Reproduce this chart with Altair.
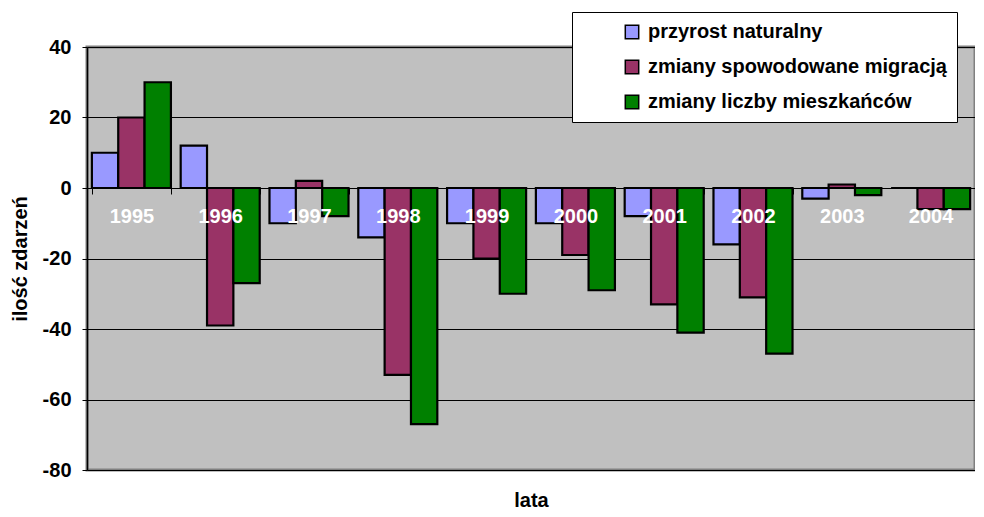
import altair as alt
import pandas as pd

years = ["1995", "1996", "1997", "1998", "1999", "2000", "2001", "2002", "2003", "2004"]
series_names = ["przyrost naturalny", "zmiany spowodowane migracją", "zmiany liczby mieszkańców"]
przyrost = [10, 12, -10, -14, -10, -10, -8, -16, -3, 0]
migracja = [20, -39, 2, -53, -20, -19, -33, -31, 1, -6]
zmiany = [30, -27, -8, -67, -30, -29, -41, -47, -2, -6]
colors = ["#9999FF", "#993366", "#008000"]
y_ticks = [-80, -60, -40, -20, 0, 20, 40]
y_domain = [-80, 40]

rows = []
for name, vals in zip(series_names, [przyrost, migracja, zmiany]):
    for yr, v in zip(years, vals):
        rows.append({"year": yr, "series": name, "value": v})
df = pd.DataFrame(rows)

W, H = 888, 423
FONT = "Liberation Sans"
zero_from_top = H * (y_domain[1] - 0) / (y_domain[1] - y_domain[0])
x_offset = -(H - zero_from_top)

chart = alt.Chart(df).mark_bar(stroke="black", strokeWidth=2.2).encode(
    x=alt.X(
        "year:N", sort=years,
        scale=alt.Scale(paddingInner=0.11, paddingOuter=0.055),
        axis=alt.Axis(
            title="lata", offset=x_offset, labelColor="white", labelFontSize=20,
            labelFontWeight="bold", labelFont=FONT, labelAngle=0, tickBand="extent",
            tickSize=6, tickColor="black", domain=False, labelPadding=12, grid=False,
            labelOverlap=False, labelBound=False, labelFlush=False,
            titleY=302, titleFontSize=20, titleFontWeight="bold", titleFont=FONT,
            titleColor="black", zindex=1,
        ),
    ),
    xOffset=alt.XOffset("series:N", sort=series_names,
                        scale=alt.Scale(paddingInner=0, paddingOuter=0)),
    y=alt.Y(
        "value:Q", scale=alt.Scale(domain=y_domain, nice=False),
        axis=alt.Axis(
            values=y_ticks, title="ilość zdarzeń", labelFontSize=20, labelFontWeight="bold",
            labelFont=FONT, labelColor="black", tickSize=5, tickColor="black",
            labelExpr="'' + datum.value",
            labelPadding=11, domainColor="black", domainWidth=1.5, gridColor="black",
            gridWidth=1, titleFontSize=20, titleFontWeight="bold", titleFont=FONT,
            titleColor="black", titlePadding=12, zindex=0,
        ),
    ),
    color=alt.Color(
        "series:N", sort=series_names,
        scale=alt.Scale(domain=series_names, range=colors),
        legend=alt.Legend(
            title=None, orient="none", legendX=485, legendY=-35, fillColor="white",
            strokeColor="black", padding=10, rowPadding=15, symbolType="square",
            symbolSize=180, symbolStrokeColor="black", symbolStrokeWidth=1.5,
            labelFontSize=20, labelFontWeight="bold", labelFont=FONT, labelColor="black",
            labelLimit=500, labelOffset=6, symbolOffset=40, cornerRadius=0,
        ),
    ),
).properties(
    width=W, height=H,
    padding={"left": 2, "top": 3, "right": 0, "bottom": 0},
).configure_view(
    fill="#C0C0C0", stroke="#808080", strokeWidth=3,
)

chart.save("out.html", embed_options={"renderer": "svg", "actions": False})
